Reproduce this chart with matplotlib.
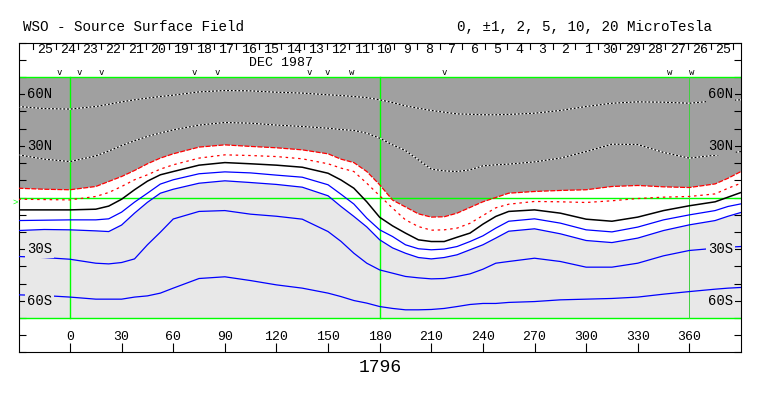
import numpy as np
import matplotlib
matplotlib.use("Agg")
import matplotlib.pyplot as plt

plt.rcParams['font.family'] = ['Liberation Mono', 'DejaVu Sans Mono']

# carrington longitude of the samples (deg)
lon = [-30, -15, 0, 15, 22.5, 30, 37.5, 45, 52.5, 60, 75, 90, 105, 120, 135, 150,
       157.5, 165, 172.5, 180, 187.5, 195, 202.5, 210, 217.5, 225, 232.5, 240, 247.5,
       255, 270, 285, 300, 315, 330, 345, 360, 375, 382.5, 390]

# contour latitudes (deg), one list per level (microtesla)
pos10 = [52.9, 51.7, 51.4, 52.9, 54.2, 55.6, 56.8, 57.8, 58.7, 59.5, 61.4, 62.2, 62.0, 61.2, 60.7, 59.7,
         59.3, 58.7, 58.1, 56.8, 55.2, 53.3, 51.9, 50.6, 49.6, 48.6, 48.4, 48.1, 48.1,
         48.3, 49.0, 50.6, 52.9, 54.8, 55.6, 55.4, 54.8, 56.2, 56.4, 56.8]
pos5 = [24.8, 22.3, 20.9, 24.2, 27.0, 30.2, 33.0, 35.5, 37.5, 39.3, 42.1, 43.6, 43.2, 42.1, 41.3, 40.3,
        39.5, 39.0, 37.4, 34.5, 30.6, 27.3, 21.9, 16.5, 15.5, 15.1, 16.1, 18.4, 19.0,
        19.4, 20.7, 22.9, 26.7, 31.0, 30.8, 26.2, 22.9, 24.6, 25.8, 26.7]
pos2 = [5.4, 4.8, 4.5, 6.4, 9.3, 12.2, 15.7, 19.6, 22.9, 25.4, 29.3, 30.6, 29.7, 28.9, 27.7, 25.4,
        22.3, 20.3, 15.1, 7.4, -1.5, -5.5, -9.5, -11.4, -11.2, -9.1, -5.8, -2.5, 0.0,
        2.5, 3.5, 4.1, 4.5, 6.4, 7.0, 6.2, 5.8, 7.9, 11.2, 15.1]
pos1 = [-1.0, -1.2, -1.4, 0.6, 2.9, 6.4, 10.3, 13.2, 16.5, 19.0, 22.9, 24.8, 24.4, 23.8, 22.5, 19.6,
        17.1, 15.1, 8.3, 1.0, -6.2, -13.0, -16.9, -19.0, -18.8, -17.8, -15.0, -10.5, -6.0,
        -3.9, -2.3, -2.5, -2.9, -1.9, -0.6, 0.2, 0.6, 2.1, 5.4, 8.3]
neutral = [-7.2, -7.2, -7.2, -6.8, -5.0, -1.0, 4.5, 9.5, 13.2, 15.1, 18.8, 20.3, 19.6, 18.8, 17.6, 14.1,
           10.2, 5.4, -2.5, -11.5, -16.5, -20.7, -24.6, -25.6, -25.6, -23.1, -20.7, -15.5, -11.0,
           -8.1, -7.2, -9.1, -12.6, -13.8, -11.4, -7.6, -4.8, -2.5, 0.2, 2.9]
neg1 = [-13.4, -13.2, -13.0, -13.0, -12.4, -8.5, -2.7, 2.5, 7.8, 10.3, 13.8, 14.9, 14.3, 13.0, 11.8, 7.4,
        1.9, -3.8, -12.0, -18.8, -22.7, -27.5, -29.8, -30.4, -30.0, -28.5, -25.6, -22.3, -17.8,
        -13.8, -12.4, -14.9, -18.8, -20.0, -17.2, -13.0, -10.1, -7.6, -5.2, -3.7]
neg2 = [-19.2, -18.6, -18.8, -19.4, -19.8, -16.0, -9.1, -2.8, 2.5, 4.8, 8.3, 9.7, 8.7, 7.6, 6.0, 1.0,
        -5.2, -11.0, -17.1, -24.6, -29.3, -32.4, -34.9, -35.7, -34.9, -33.3, -30.4, -27.5, -23.6,
        -19.6, -18.2, -21.1, -25.0, -26.2, -23.6, -19.2, -15.9, -13.4, -10.9, -8.7]
neg5 = [-34.3, -34.9, -35.9, -38.2, -38.6, -37.8, -35.7, -27.5, -20.2, -12.5, -8.1, -7.6, -9.7, -10.9, -12.6, -19.8,
        -25.5, -32.4, -38.2, -42.1, -44.0, -45.9, -46.7, -47.3, -47.1, -45.9, -44.4, -41.7, -38.2,
        -37.2, -35.3, -37.2, -40.5, -40.5, -38.2, -33.9, -30.8, -29.5, -28.9, -28.5]
neg10 = [-56.6, -57.0, -57.9, -59.1, -59.1, -59.1, -57.9, -57.2, -55.6, -52.7, -47.1, -46.1, -48.3, -50.8, -52.7, -55.6,
         -57.6, -59.9, -61.4, -63.4, -64.5, -65.3, -65.3, -65.1, -64.5, -63.4, -62.2, -61.6, -61.6,
         -61.0, -60.5, -59.5, -59.1, -58.7, -57.9, -56.2, -54.7, -53.3, -52.7, -52.3]

# day-of-month labels along the top (time runs right to left)
day_labels = ['25', '24', '23', '22', '21', '20', '19', '18', '17', '16', '15', '14', '13', '12', '11',
              '10', '9', '8', '7', '6', '5', '4', '3', '2', '1', '30', '29', '28', '27', '26', '25']
# marks above the map ('w' = two marks close together)
v_marks = [-6.4, 5.2, 18.0, 72.1, 85.4, 138.9, 149.4, 163.8, 217.4, 348.3, 361.5]
v_glyphs = ['v', 'v', 'v', 'v', 'v', 'v', 'v', 'w', 'v', 'w', 'w']
lon_ticks = list(range(0, 361, 30))
lat_labels = [(60, '60N'), (30, '30N'), (-30, '30S'), (-60, '60S')]

dark = '#a0a0a0'
light = '#e8e8e8'
green = '#00ff00'

fig = plt.figure(figsize=(7.63, 3.96), dpi=100, facecolor='white')
ax = fig.add_axes([19/763, 1-352.3/396, 722/763, 309.6/396])
x0, x1 = (19-70)/1.7204, (741-70)/1.7204
ax.set_xlim(x0, x1)
ax.set_ylim(-90, 90)

# shading: dark above +2, white between -2 and +2, light below -2
ax.fill_between([x0, x1], -70, 70, color=light, lw=0, zorder=0.5)
ax.fill_between(lon, pos2, 70, color=dark, lw=0, zorder=1)
ax.fill_between(lon, neg2, pos2, facecolor='#ffffff', lw=0, zorder=1.2)

# green reference lines
for lat in (70, 0, -70):
    ax.plot([x0, x1], [lat, lat], color=green, lw=1.0, zorder=2)
ax.plot([0, 0], [-70, 70], color=green, lw=1.0, zorder=2)
ax.plot([180, 180], [-70, 70], color=green, lw=1.0, zorder=2)
ax.plot([360, 360], [-70, 70], color='#40d040', lw=0.7, zorder=2)

# contours
for line in (pos10, pos5):
    ax.plot(lon, line, color='white', lw=0.9, zorder=3)
    ax.plot(lon, line, color='black', lw=0.9, ls=(0, (1.5, 1.5)), zorder=3)
ax.plot(lon, pos2, color='red', lw=0.9, ls=(0, (4, 1.2)), zorder=3)
ax.plot(lon, pos1, color='red', lw=0.9, ls=(0, (2, 3)), zorder=3)
ax.plot(lon, neutral, color='black', lw=1.1, zorder=3)
for line in (neg1, neg2, neg5, neg10):
    ax.plot(lon, line, color='blue', lw=0.9, zorder=3)

# latitude labels on both sides, painted over the lines
for lat, txt in lat_labels:
    bg = dark if lat > 0 else light
    ax.text(-25.0, lat, txt, ha='left', va='center', fontsize=10, zorder=5,
            bbox=dict(boxstyle='square,pad=0.12', fc=bg, ec='none'))
    ax.text(385.4, lat, txt, ha='right', va='center', fontsize=10, zorder=5,
            bbox=dict(boxstyle='square,pad=0.12', fc=bg, ec='none'))

# frame ticks
ax.set_yticks(range(-90, 91, 10))
ax.set_xticks(lon_ticks)
ax.tick_params(axis='y', direction='in', length=5, width=0.8, left=True, right=True,
               labelleft=False, labelright=False)
ax.tick_params(axis='x', direction='in', length=6.5, width=0.8, bottom=True, top=False,
               labelbottom=False)
for s in ax.spines.values():
    s.set_linewidth(0.8)
for t in lon_ticks:
    ax.text(t, -81, str(t), ha='center', va='center', fontsize=9.5)

# day strip at the top
day_edge0 = -21.5
deg_per_day = 13.13
for k in range(len(day_labels) + 1):
    ax.plot([day_edge0 + k*deg_per_day]*2, [86.6, 90], color='black', lw=0.8, zorder=4)
for k, d in enumerate(day_labels):
    ax.text(day_edge0 + (k+0.55)*deg_per_day, 86.0, d, ha='center', va='center', fontsize=9.5)
ax.text(122.6, 78.4, 'DEC 1987', ha='center', va='center', fontsize=9.5)
for v, g in zip(v_marks, v_glyphs):
    ax.text(v, 69.8, g, ha='center', va='bottom', fontsize=6.5, family='DejaVu Sans Mono')

# earth latitude marker
ax.text(x0 - 0.5, -2.7, '>', ha='right', va='center', color=green, fontsize=6.5, clip_on=False)

fig.text(23/763, 1-27/396, 'WSO - Source Surface Field', ha='left', va='center', fontsize=10.3)
fig.text(712/763, 1-27/396, '0, \u00b11, 2, 5, 10, 20 MicroTesla', ha='right', va='center', fontsize=10.3)
fig.text(380/763, 1-367/396, '1796', ha='center', va='center', fontsize=13)

fig.savefig('out.png', dpi=100)
